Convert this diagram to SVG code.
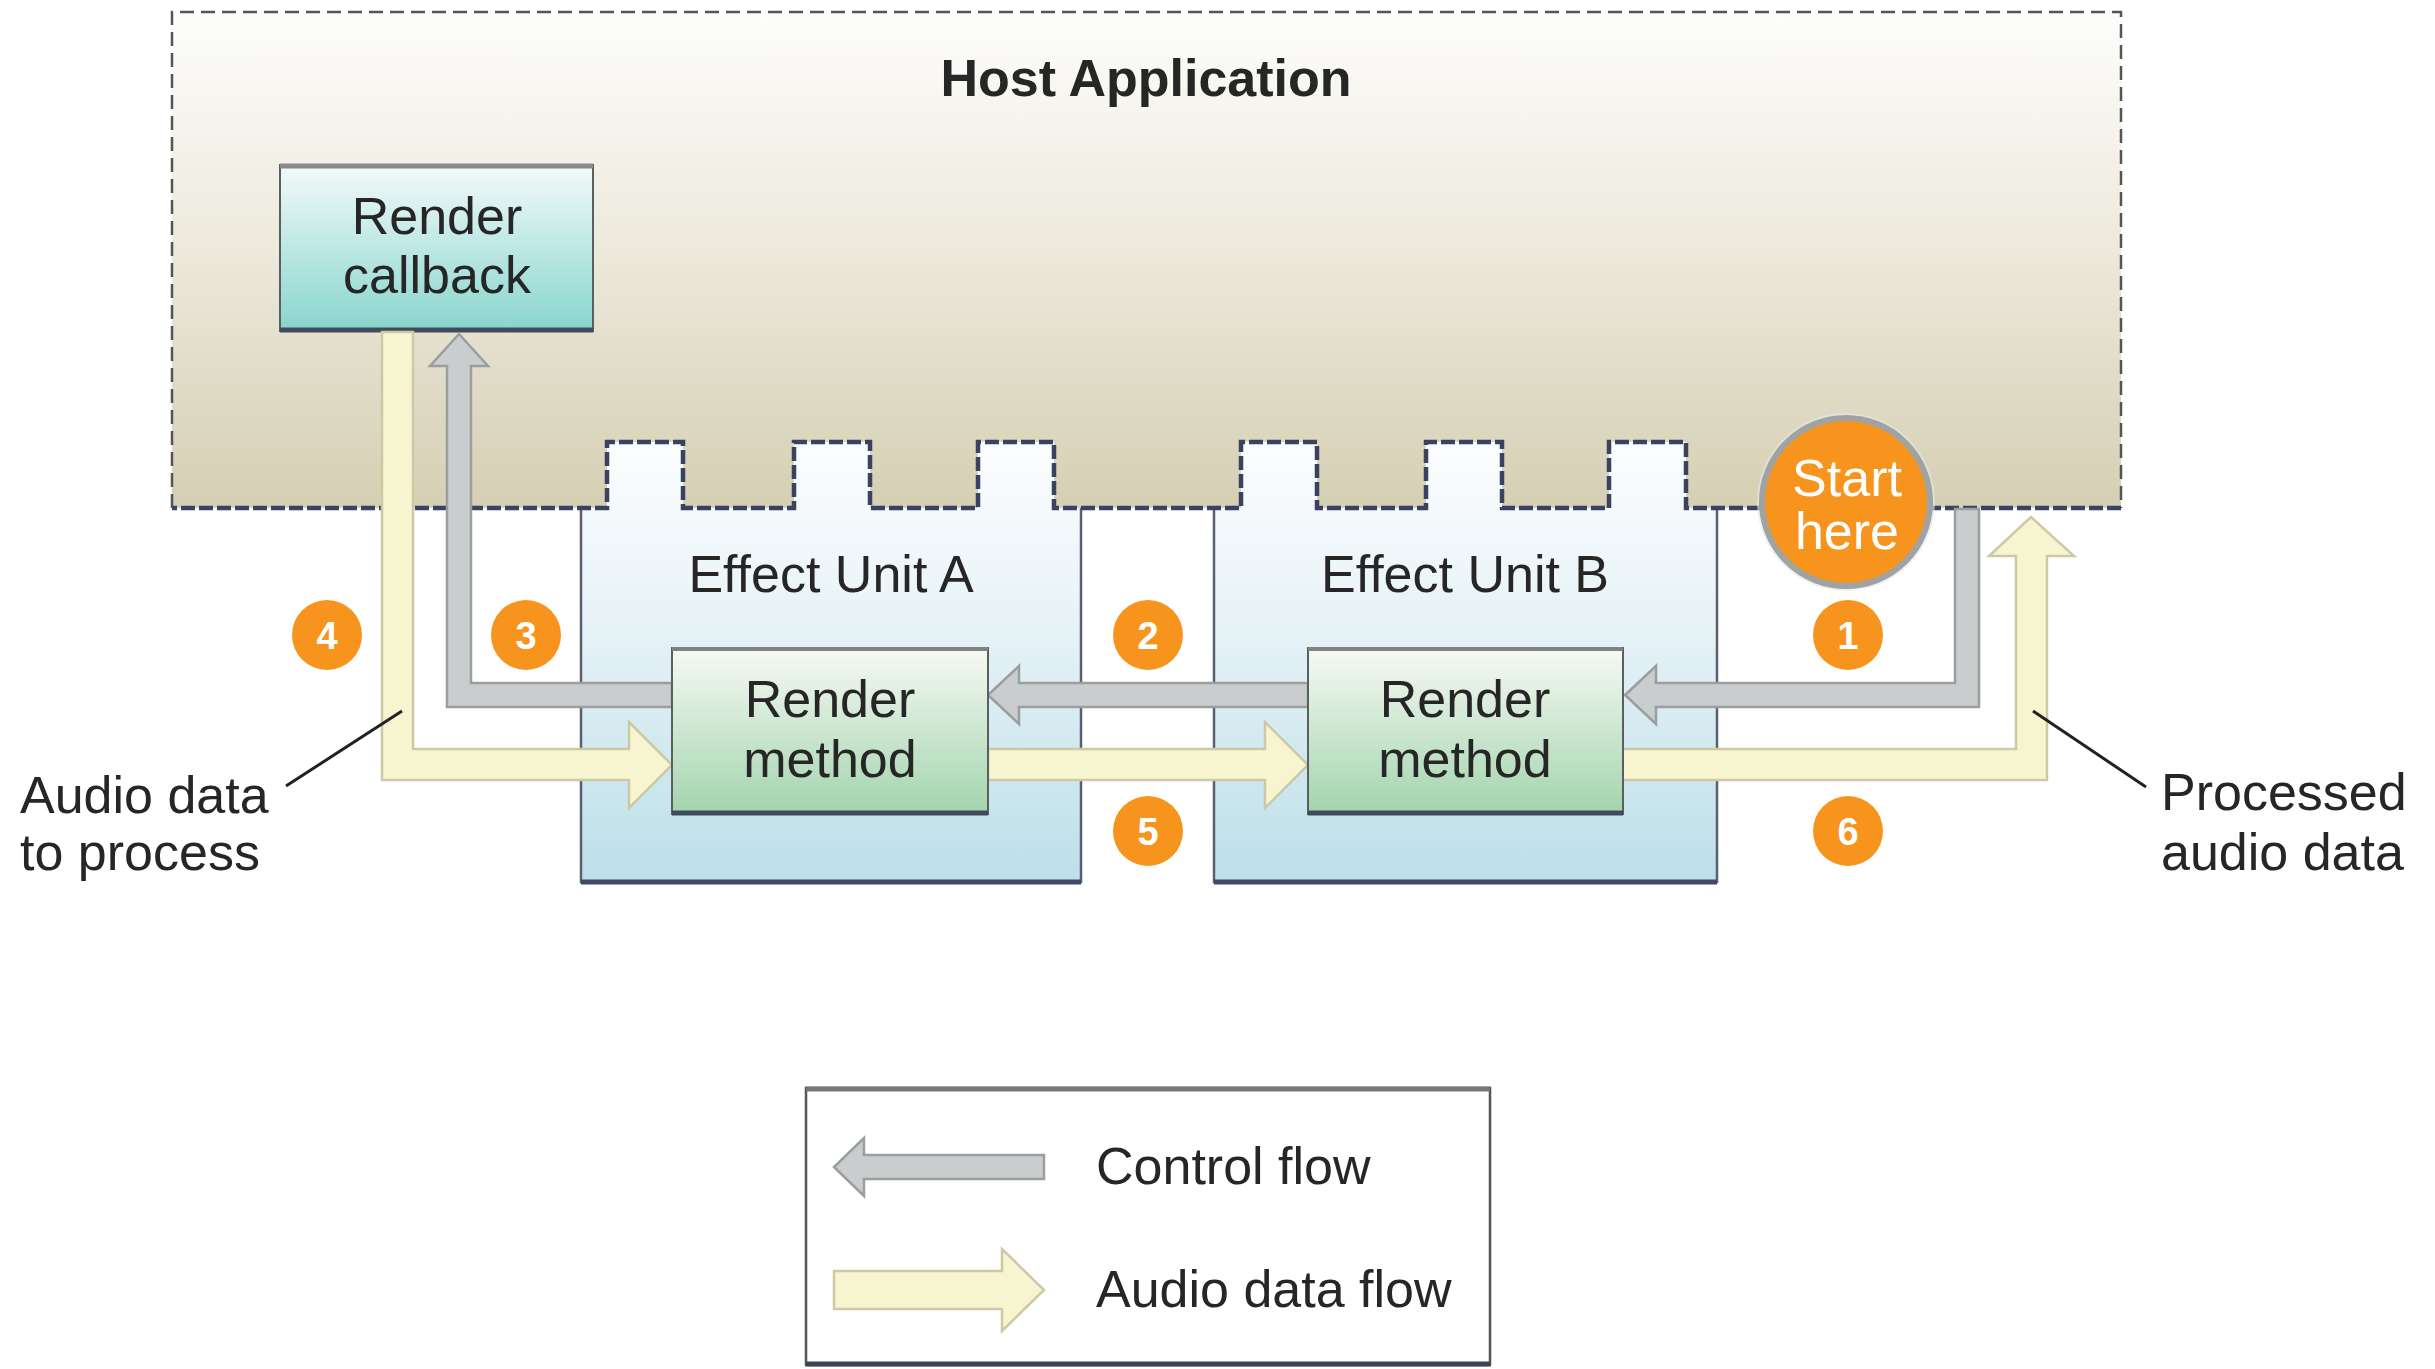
<svg xmlns="http://www.w3.org/2000/svg" width="2435" height="1369" viewBox="0 0 2435 1369">
<style>
text{font-family:"Liberation Sans",Arial,Helvetica,sans-serif;fill:#262626}
.lbl{font-size:52px}
.mid{text-anchor:middle}
.title{font-size:52px;font-weight:bold}
.ctl{fill:#c9cdcd;stroke:#9a9e9e;stroke-width:2.5;stroke-linejoin:miter}
.aud{fill:#f7f5cf;stroke:#cdc9a6;stroke-width:2.5;stroke-linejoin:miter}
.badge{fill:#f7941d}
.num{font-size:38px;font-weight:bold;fill:#ffffff;text-anchor:middle}
.call{stroke:#222;stroke-width:3;fill:none}
</style>
<defs>
<linearGradient id="gHost" x1="0" y1="0" x2="0" y2="1">
<stop offset="0" stop-color="#fdfdfc"/>
<stop offset="0.5" stop-color="#ece8da"/>
<stop offset="1" stop-color="#d5cfb3"/>
</linearGradient>
<linearGradient id="gUnit" x1="0" y1="0" x2="0" y2="1">
<stop offset="0" stop-color="#fcfdfe"/>
<stop offset="0.4" stop-color="#e8f3f7"/>
<stop offset="1" stop-color="#bcdfe9"/>
</linearGradient>
<linearGradient id="gCb" x1="0" y1="0" x2="0" y2="1">
<stop offset="0" stop-color="#f3fafa"/>
<stop offset="1" stop-color="#88d5cd"/>
</linearGradient>
<linearGradient id="gRm" x1="0" y1="0" x2="0" y2="1">
<stop offset="0" stop-color="#f7f9f4"/>
<stop offset="1" stop-color="#a2d4ad"/>
</linearGradient>
</defs>
<rect x="0" y="0" width="2435" height="1369" fill="#ffffff"/>

<g id="effect-unit-a">
<rect x="581" y="442" width="500" height="440" fill="url(#gUnit)"/>
<path d="M581,442 V882 H1081 V442" fill="none" stroke="#5a6070" stroke-width="2.5"/>
<line x1="581" y1="882" x2="1081" y2="882" stroke="#3f4866" stroke-width="5"/>
</g>
<g id="effect-unit-b">
<rect x="1214" y="442" width="503" height="440" fill="url(#gUnit)"/>
<path d="M1214,442 V882 H1717 V442" fill="none" stroke="#5a6070" stroke-width="2.5"/>
<line x1="1214" y1="882" x2="1717" y2="882" stroke="#3f4866" stroke-width="5"/>
</g>

<g id="host-application">
<path d="M172,12 H2121 V508 H1686 V442 H1609 V508 H1502 V442 H1426 V508 H1317 V442 H1241 V508 H1054 V442 H978 V508 H870 V442 H794 V508 H683 V442 H607 V508 H172 Z" fill="url(#gHost)"/>
<path d="M172,508 V12 H2121 V508" fill="none" stroke="#555" stroke-width="2.5" stroke-dasharray="14 7"/>
<path d="M2121,508 H1686 V442 H1609 V508 H1502 V442 H1426 V508 H1317 V442 H1241 V508 H1054 V442 H978 V508 H870 V442 H794 V508 H683 V442 H607 V508 H172" fill="none" stroke="#3a4262" stroke-width="4.5" stroke-dasharray="14 4"/>
<text class="title mid" x="1146" y="96">Host Application</text>
</g>

<g id="render-callback">
<rect x="280" y="165" width="313" height="166" fill="url(#gCb)" stroke="#5a6060" stroke-width="2"/>
<line x1="280" y1="166" x2="593" y2="166" stroke="#8a8a8a" stroke-width="5"/>
<line x1="280" y1="330" x2="593" y2="330" stroke="#3f4a5c" stroke-width="5"/>
<text class="lbl mid" x="437" y="234">Render</text>
<text class="lbl mid" x="437" y="293">callback</text>
</g>

<g id="connectors">
<polygon class="ctl" points="1979,509 1979,707 1656,707 1656,724 1625,695 1656,666 1656,683 1955,683 1955,509"/>
<polygon class="ctl" points="1308,683 1019,683 1019,666 988,695 1019,724 1019,707 1308,707"/>
<polygon class="ctl" points="672,683 471,683 471,366 488,366 459,334 430,366 447,366 447,707 672,707"/>
<polygon class="aud" points="382,332 413,332 413,749 629,749 629,722 672,765 629,808 629,780 382,780"/>
<polygon class="aud" points="988,749 1265,749 1265,722 1308,765 1265,808 1265,780 988,780"/>
<polygon class="aud" points="1622,749 2016,749 2016,556 1989,556 2031,517 2074,556 2047,556 2047,780 1622,780"/>
<line class="call" x1="286" y1="786" x2="402" y2="711"/>
<line class="call" x1="2033" y1="711" x2="2146" y2="787"/>
</g>

<g id="render-method-a">
<rect x="672" y="648" width="316" height="166" fill="url(#gRm)" stroke="#5a6060" stroke-width="2"/>
<line x1="672" y1="649" x2="988" y2="649" stroke="#7e8480" stroke-width="4"/>
<line x1="672" y1="813" x2="988" y2="813" stroke="#3f4a5c" stroke-width="5"/>
<text class="lbl mid" x="830" y="717">Render</text>
<text class="lbl mid" x="830" y="777">method</text>
</g>
<g id="render-method-b">
<rect x="1308" y="648" width="315" height="166" fill="url(#gRm)" stroke="#5a6060" stroke-width="2"/>
<line x1="1308" y1="649" x2="1623" y2="649" stroke="#7e8480" stroke-width="4"/>
<line x1="1308" y1="813" x2="1623" y2="813" stroke="#3f4a5c" stroke-width="5"/>
<text class="lbl mid" x="1465" y="717">Render</text>
<text class="lbl mid" x="1465" y="777">method</text>
</g>

<g id="effect-unit-labels">
<text class="lbl mid" x="831" y="592">Effect Unit A</text>
<text class="lbl mid" x="1465" y="592">Effect Unit B</text>
</g>

<g id="start-here">
<circle cx="1846" cy="502" r="89" fill="#e8e8e8" opacity="0.6"/>
<circle cx="1846" cy="502" r="84" fill="#f7941d" stroke="#9fa3a3" stroke-width="6"/>
<text class="lbl mid" x="1847" y="496" style="fill:#ffffff">Start</text>
<text class="lbl mid" x="1847" y="549" style="fill:#ffffff">here</text>
</g>

<g id="badge-1"><circle class="badge" cx="1848" cy="635" r="35"/><text class="num" x="1848" y="649">1</text></g>
<g id="badge-2"><circle class="badge" cx="1148" cy="635" r="35"/><text class="num" x="1148" y="649">2</text></g>
<g id="badge-3"><circle class="badge" cx="526" cy="635" r="35"/><text class="num" x="526" y="649">3</text></g>
<g id="badge-4"><circle class="badge" cx="327" cy="635" r="35"/><text class="num" x="327" y="649">4</text></g>
<g id="badge-5"><circle class="badge" cx="1148" cy="831" r="35"/><text class="num" x="1148" y="845">5</text></g>
<g id="badge-6"><circle class="badge" cx="1848" cy="831" r="35"/><text class="num" x="1848" y="845">6</text></g>

<g id="label-audio-to-process">
<text class="lbl" x="20" y="813">Audio data</text>
<text class="lbl" x="20" y="870">to process</text>
</g>
<g id="label-processed">
<text class="lbl" x="2161" y="810">Processed</text>
<text class="lbl" x="2161" y="870">audio data</text>
</g>

<g id="legend">
<rect x="806" y="1088" width="684" height="277" fill="#ffffff" stroke="#555" stroke-width="2.5"/>
<line x1="806" y1="1089" x2="1490" y2="1089" stroke="#777" stroke-width="5"/>
<line x1="806" y1="1364" x2="1490" y2="1364" stroke="#3b4356" stroke-width="5"/>
<polygon class="ctl" points="1044,1155 864,1155 864,1138 834,1167 864,1196 864,1179 1044,1179"/>
<text class="lbl" x="1096" y="1184">Control flow</text>
<polygon class="aud" points="834,1271 1002,1271 1002,1249 1044,1290 1002,1331 1002,1309 834,1309"/>
<text class="lbl" x="1096" y="1307">Audio data flow</text>
</g>
</svg>
